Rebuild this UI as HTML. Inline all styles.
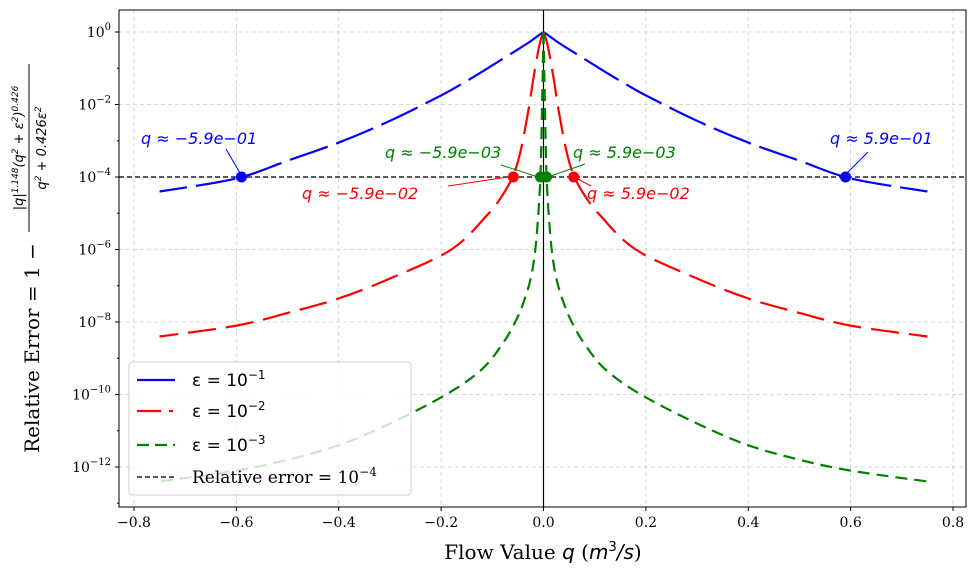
<!DOCTYPE html>
<html><head><meta charset="utf-8"><style>
body{margin:0;background:#fff}
svg text{font-family:"DejaVu Serif","Liberation Serif",serif}
.m{font-family:"DejaVu Sans","Liberation Sans",sans-serif}
</style></head><body>
<svg id="c" width="976" height="577" xmlns="http://www.w3.org/2000/svg"></svg>
<script>
const xTicks=[-0.8,-0.6,-0.4,-0.2,0,0.2,0.4,0.6,0.8];
const xTickLabels=["−0.8","−0.6","−0.4","−0.2","0.0","0.2","0.4","0.6","0.8"];
const yTickExps=[0,-2,-4,-6,-8,-10,-12];
const blueQ=[0,0.01,0.02,0.03,0.05,0.075,0.1,0.15,0.2,0.3,0.4,0.5,0.6,0.75];
const blueLog=[0,-0.1,-0.2,-0.3,-0.48,-0.7,-0.92,-1.35,-1.75,-2.45,-3.05,-3.55,-4.04,-4.4];
const redQ=[0,0.005,0.01,0.02,0.03,0.045,0.059,0.08,0.11,0.18,0.3,0.4,0.5,0.6,0.75];
const redLog=[0,-0.2,-0.5,-1.3,-2.2,-3.3,-3.95,-4.5,-5.05,-6.0,-6.8,-7.35,-7.75,-8.1,-8.4];
const greenQ=[0,0.002,0.004,0.006,0.01,0.016,0.025,0.04,0.057,0.08,0.12,0.19,0.3,0.4,0.5,0.6,0.75];
const greenLog=[0,-1.5,-2.9,-4,-5,-6,-6.8,-7.5,-8.05,-8.6,-9.3,-10,-10.8,-11.4,-11.8,-12.1,-12.4];
const markerQ=[0.59,0.059,0.0059];
const threshold=-4;

const NS="http://www.w3.org/2000/svg",svg=document.getElementById('c');
const L=119,R=966,T=10,B=507;
const X=q=>543.5+q*511.9;
const Y=lg=>32-lg*36.25;
function el(t,a,p){const e=document.createElementNS(NS,t);for(const k in a)e.setAttribute(k,a[k]);(p||svg).appendChild(e);return e;}
xTicks.forEach(v=>{const g=el('line',{x1:X(v),x2:X(v),y1:T,y2:B,stroke:'#ccc','stroke-dasharray':'4,3','stroke-width':0.8});

});
yTickExps.forEach(v=>{const g=el('line',{x1:L,x2:R,y1:Y(v),y2:Y(v),stroke:'#ccc','stroke-dasharray':'4,3','stroke-width':0.8});

});
const th=el('line',{x1:L,x2:R,y1:Y(threshold),y2:Y(threshold),stroke:'#222','stroke-width':1.5,'stroke-dasharray':'5,3'});


const zl=el('line',{x1:X(0),x2:X(0),y1:T,y2:B,stroke:'#000','stroke-width':1.2});


function smooth(p){let d='M'+p[0][0]+','+p[0][1];
 for(let i=0;i<p.length-1;i++){const p0=p[Math.max(0,i-1)],p1=p[i],p2=p[i+1],p3=p[Math.min(p.length-1,i+2)];
  const c1=[p1[0]+(p2[0]-p0[0])/6,p1[1]+(p2[1]-p0[1])/6],c2=[p2[0]-(p3[0]-p1[0])/6,p2[1]-(p3[1]-p1[1])/6];
  d+=' C'+c1+' '+c2+' '+p2;}
 return d;}
function side(qs,lg,sg,color,dash,name){
  const pts=qs.map((q,i)=>[X(sg*q),Y(lg[i])]);
  const p=el('path',{d:smooth(pts),fill:'none',stroke:color,'stroke-width':2.2,'stroke-dasharray':dash});
  
  
}
function series(qs,lg,color,dash,name){side(qs,lg,-1,color,dash,name);side(qs,lg,1,color,dash,name);}
series(blueQ,blueLog,'#0000ff','40,9','series-eps-1e-1');
series(redQ,redLog,'#ff0000','28,10','series-eps-1e-2');
series(greenQ,greenLog,'#008000','12,7','series-eps-1e-3');
const mc=['#0000ff','#ff0000','#008000'];
markerQ.forEach((q,i)=>{[-q,q].forEach(s=>{const c=el('circle',{cx:X(s),cy:Y(threshold),r:5.5,fill:mc[i]});

});});
const ann=[[141,144,'q ≈ −5.9e−01','#0000ff',226,149,240,173],[830,144,'q ≈ 5.9e−01','#0000ff',868,152,846,174],
[302,199,'q ≈ −5.9e−02','#ff0000',448,186,508,177],[587,199,'q ≈ 5.9e−02','#ff0000',591,186,576,178],
[385,158,'q ≈ −5.9e−03','#008000',501,165,538,177],[573,158,'q ≈ 5.9e−03','#008000',585,164,548,177]];
ann.forEach(a=>{const t=el('text',{x:a[0],y:a[1],fill:a[3],'font-size':16,class:'m','font-style':'italic'});t.textContent=a[2];


const l=el('line',{x1:a[4],y1:a[5],x2:a[6],y2:a[7],stroke:a[3],'stroke-width':1});

});
const lg=el('g',{});


el('rect',{x:129,y:362,width:282,height:133,rx:3,fill:'rgba(255,255,255,0.8)',stroke:'#ccc'},lg);
const le=[['#0000ff','none','ε = 10','−1',380],['#ff0000','24,8,4,8','ε = 10','−2',411],['#008000','12,6','ε = 10','−3',445],['#222','5,3','Relative error = 10','−4',477]];
le.forEach((e,i)=>{el('line',{x1:137,x2:175,y1:e[4],y2:e[4],stroke:e[0],'stroke-width':i==3?1.5:2.2,'stroke-dasharray':e[1]},lg);
const t=el('text',{x:192,y:e[4]+6,'font-size':17,fill:'#000'},lg);
if(i<3)t.setAttribute('class','m');
t.innerHTML=e[2]+'<tspan dy="-7" font-size="12">'+e[3]+'</tspan>';

});
const fr=el('rect',{x:L,y:T,width:R-L,height:B-T,fill:'none',stroke:'#000','stroke-width':1});


xTicks.forEach((v,i)=>{el('line',{x1:X(v),x2:X(v),y1:B,y2:B+4,stroke:'#000'});
const t=el('text',{x:X(v),y:B+20,'font-size':14,'text-anchor':'middle'});t.textContent=xTickLabels[i];

});
for(let e=0;e>=-13;e--)el('line',{x1:L-(e%2?2:4),x2:L,y1:Y(e),y2:Y(e),stroke:'#000'});
yTickExps.forEach(v=>{const t=el('text',{x:L-8,y:Y(v)+5,'font-size':14,'text-anchor':'end'});
t.innerHTML='10<tspan dy="-7" font-size="10">'+(v==0?'0':'−'+(-v))+'</tspan>';

});
const xl=el('text',{x:543,y:559,'font-size':20,'text-anchor':'middle'});
xl.innerHTML='Flow Value <tspan class="m" font-style="italic">q</tspan> (<tspan class="m" font-style="italic">m</tspan><tspan dy="-8" font-size="13" class="m">3</tspan><tspan dy="8" class="m" font-style="italic">/s</tspan>)';


const yl=el('text',{transform:'translate(39,348) rotate(-90)','font-size':20,'text-anchor':'middle'});
yl.textContent='Relative Error = 1 −';


const yn=el('text',{transform:'translate(23,148) rotate(-90)','font-size':13,'text-anchor':'middle',class:'m','font-style':'italic'});
yn.innerHTML='|q|<tspan dy="-5" font-size="9">1.148</tspan><tspan dy="5">(q</tspan><tspan dy="-5" font-size="9">2</tspan><tspan dy="5"> + ε</tspan><tspan dy="-5" font-size="9">2</tspan><tspan dy="5">)</tspan><tspan dy="-5" font-size="9">0.426</tspan>';


const yd=el('text',{transform:'translate(46,148) rotate(-90)','font-size':13,'text-anchor':'middle',class:'m','font-style':'italic'});
yd.innerHTML='q<tspan dy="-5" font-size="9">2</tspan><tspan dy="5"> + 0.426ε</tspan><tspan dy="-5" font-size="9">2</tspan>';


el('line',{x1:29,x2:29,y1:64,y2:232,stroke:'#000','stroke-width':1});
</script>
</body></html>
